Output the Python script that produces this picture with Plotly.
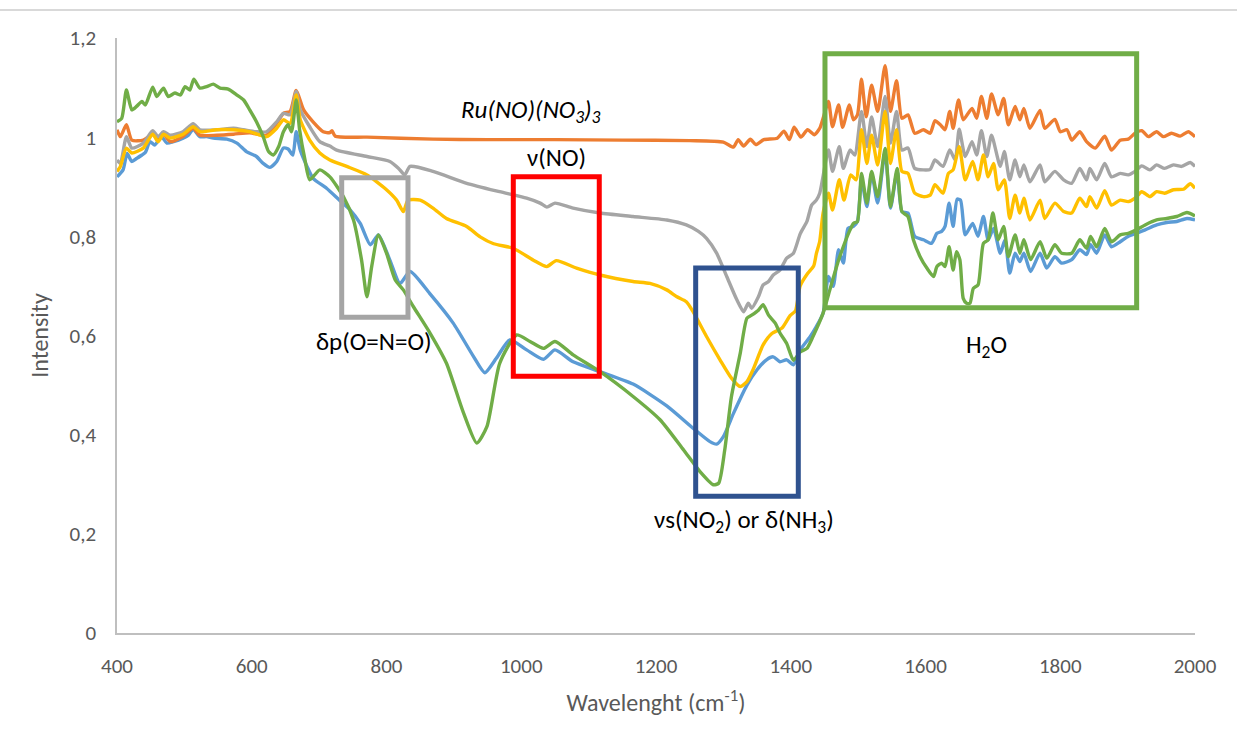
import plotly.graph_objects as go

# ---------------- data ----------------
orange_x = [400, 405, 414, 422, 439, 453, 461, 469, 479, 498, 513, 523, 548, 573, 597, 622, 637, 647, 657, 666, 677, 691, 706, 716, 719, 724, 771, 869, 950, 1050, 1150, 1250, 1300, 1315, 1322, 1330, 1340, 1348, 1360, 1380, 1390, 1398, 1405, 1415, 1425, 1435,
            1443, 1448, 1456, 1462, 1471, 1477, 1487, 1493, 1499, 1505, 1512, 1520, 1529, 1540, 1548, 1557, 1565, 1574, 1584, 1597, 1607, 1614, 1622, 1629, 1636, 1641, 1649, 1656, 1669, 1676, 1683, 1691, 1698, 1708, 1716, 1723, 1733, 1740, 1746, 1755, 1770, 1777, 1792, 1800, 1810, 1817, 1829, 1839, 1852, 1866, 1876, 1889, 1901, 1911, 1921, 1931, 1943, 1953, 1965, 1978, 1990, 2000]
orange_y = [1.015, 1.001, 1.025, 0.994, 0.994, 1.006, 0.994, 1.006, 0.991, 1.002, 1.018, 1.004, 1.004, 1.006, 1.009, 1.004, 1.028, 1.048, 1.052, 1.094, 1.055, 1.031, 1.011, 1.009, 1.013, 1.002, 1.000, 0.996, 0.995, 0.995, 0.994, 0.993, 0.990, 0.980, 0.995, 0.982, 0.996, 0.985, 0.995, 0.998, 1.012, 0.995, 1.020, 1.000, 1.015, 1.005,
            1.018, 1.038, 1.072, 1.021, 1.065, 1.020, 1.065, 1.035, 1.045, 1.117, 1.041, 1.105, 1.052, 1.144, 1.052, 1.114, 1.038, 1.045, 1.008, 1.015, 1.008, 1.033, 1.025, 1.015, 1.052, 1.018, 1.075, 1.035, 1.058, 1.038, 1.082, 1.038, 1.087, 1.045, 1.078, 1.025, 1.062, 1.035, 1.058, 1.018, 1.054, 1.018, 1.036, 1.011, 1.015, 0.994, 1.011, 0.991, 0.978, 1.002, 0.974, 0.994, 0.996, 1.008, 1.013, 1.001, 1.011, 1.001, 1.008, 1.002, 1.011, 1.001]

gray_x = [400, 405, 414, 422, 439, 453, 461, 469, 479, 498, 513, 523, 548, 573, 588, 607, 622, 637, 647, 657, 666, 672, 686, 701, 716, 726, 771, 805, 818, 827, 835, 869, 919, 968, 1008, 1028, 1038, 1050, 1077, 1117, 1166, 1216, 1245, 1263, 1275, 1290, 1305, 1320, 1330, 1337, 1342, 1352, 1359, 1367, 1374, 1384, 1394, 1404, 1414, 1424, 1431, 1438,
          1443, 1456, 1462, 1472, 1478, 1488, 1495, 1505, 1513, 1520, 1529, 1540, 1548, 1557, 1565, 1574, 1584, 1597, 1607, 1614, 1626, 1636, 1644, 1650, 1659, 1669, 1676, 1683, 1691, 1698, 1711, 1717, 1725, 1733, 1740, 1746, 1755, 1770, 1777, 1792, 1805, 1817, 1829, 1839, 1844, 1854, 1866, 1876, 1889, 1901, 1911, 1921, 1933, 1943, 1955, 1968, 1980, 1993, 2000]
gray_y = [0.954, 0.947, 1.001, 0.978, 0.988, 1.013, 1.001, 1.011, 1.004, 1.011, 1.027, 1.015, 1.015, 1.018, 1.015, 1.011, 1.011, 1.031, 1.048, 1.045, 1.092, 1.055, 1.021, 0.991, 0.982, 0.974, 0.961, 0.951, 0.937, 0.924, 0.941, 0.931, 0.907, 0.890, 0.877, 0.867, 0.859, 0.867, 0.857, 0.847, 0.840, 0.833, 0.823, 0.810, 0.796, 0.766, 0.719, 0.672, 0.648, 0.665, 0.655, 0.678, 0.702, 0.709, 0.722, 0.732, 0.756, 0.766, 0.805, 0.830, 0.863, 0.873,
          0.887, 0.974, 0.931, 0.981, 0.937, 0.974, 0.964, 1.052, 0.981, 1.041, 0.981, 1.082, 0.988, 1.052, 0.974, 0.978, 0.937, 0.934, 0.935, 0.954, 0.941, 0.974, 0.954, 1.016, 0.961, 0.991, 0.964, 1.013, 0.961, 1.004, 0.941, 0.971, 0.914, 0.954, 0.920, 0.944, 0.910, 0.944, 0.910, 0.931, 0.914, 0.907, 0.937, 0.914, 0.937, 0.914, 0.947, 0.920, 0.927, 0.924, 0.931, 0.942, 0.934, 0.944, 0.937, 0.944, 0.941, 0.949, 0.941]

yellow_x = [400, 405, 414, 422, 439, 453, 461, 469, 479, 498, 513, 523, 548, 573, 597, 622, 637, 647, 657, 666, 672, 686, 701, 716, 741, 771, 800, 815, 825, 832, 850, 869, 889, 919, 939, 959, 988, 1018, 1038, 1052, 1082, 1117, 1166, 1191, 1216, 1231, 1245, 1255, 1275, 1295, 1312, 1325, 1335, 1344, 1359, 1372, 1387, 1399, 1407, 1414, 1425, 1434, 1438,
            1443, 1448, 1456, 1462, 1472, 1479, 1489, 1497, 1505, 1513, 1520, 1529, 1540, 1548, 1557, 1565, 1574, 1584, 1597, 1607, 1614, 1626, 1634, 1641, 1650, 1659, 1670, 1678, 1686, 1693, 1701, 1708, 1717, 1725, 1733, 1740, 1746, 1755, 1770, 1777, 1792, 1805, 1817, 1829, 1839, 1844, 1854, 1866, 1876, 1889, 1901, 1911, 1921, 1933, 1943, 1955, 1968, 1983, 1993, 2000]
yellow_y = [0.931, 0.941, 0.978, 0.968, 0.978, 1.006, 0.991, 1.006, 0.998, 1.006, 1.021, 1.011, 1.015, 1.015, 1.011, 1.001, 1.018, 1.035, 1.028, 1.085, 1.035, 0.994, 0.968, 0.954, 0.941, 0.924, 0.894, 0.873, 0.850, 0.873, 0.873, 0.857, 0.836, 0.820, 0.799, 0.785, 0.776, 0.752, 0.739, 0.751, 0.736, 0.722, 0.709, 0.705, 0.692, 0.678, 0.668, 0.648, 0.598, 0.551, 0.514, 0.497, 0.507, 0.531, 0.581, 0.604, 0.615, 0.640, 0.650, 0.700, 0.725, 0.740, 0.765,
            0.790, 0.847, 0.887, 0.853, 0.914, 0.873, 0.924, 0.914, 1.015, 0.947, 1.004, 0.944, 1.052, 0.947, 1.015, 0.931, 0.927, 0.887, 0.880, 0.883, 0.904, 0.887, 0.927, 0.934, 0.981, 0.914, 0.951, 0.914, 0.964, 0.920, 0.947, 0.894, 0.914, 0.836, 0.883, 0.847, 0.877, 0.833, 0.873, 0.836, 0.867, 0.850, 0.847, 0.877, 0.860, 0.880, 0.857, 0.892, 0.863, 0.873, 0.870, 0.877, 0.890, 0.880, 0.890, 0.887, 0.894, 0.895, 0.906, 0.897]

blue_x = [400, 409, 415, 422, 429, 437, 442, 449, 456, 466, 474, 484, 498, 506, 513, 523, 533, 543, 563, 578, 592, 607, 617, 627, 637, 647, 654, 661, 666, 672, 682, 691, 711, 731, 745, 761, 776, 788, 805, 820, 835, 864, 899, 929, 946, 963, 983, 1008, 1033, 1050, 1077, 1117, 1166, 1216, 1255, 1280, 1290, 1300, 1315, 1335, 1350, 1364, 1374, 1384, 1394, 1404, 1414, 1429, 1438, 1448, 1456, 1463, 1471, 1478, 1485,
          1493, 1499, 1505, 1513, 1520, 1529, 1540, 1548, 1558, 1565, 1574, 1584, 1597, 1609, 1617, 1624, 1629, 1635, 1641, 1647, 1652, 1659, 1670, 1678, 1686, 1693, 1701, 1711, 1718, 1725, 1733, 1740, 1746, 1756, 1770, 1780, 1792, 1802, 1817, 1829, 1839, 1845, 1854, 1866, 1876, 1889, 1901, 1913, 1926, 1943, 1958, 1973, 1988, 2000]
blue_y = [0.920, 0.934, 0.967, 0.951, 0.957, 0.964, 0.969, 0.991, 0.984, 1.001, 0.988, 0.991, 0.998, 1.004, 1.016, 1.001, 1.001, 0.998, 0.996, 0.988, 0.971, 0.961, 0.947, 0.939, 0.951, 0.978, 0.976, 0.964, 1.011, 0.974, 0.941, 0.917, 0.897, 0.872, 0.855, 0.826, 0.783, 0.803, 0.752, 0.705, 0.729, 0.685, 0.625, 0.558, 0.525, 0.554, 0.591, 0.571, 0.552, 0.571, 0.547, 0.527, 0.502, 0.458, 0.413, 0.386, 0.381, 0.396, 0.443, 0.500, 0.531, 0.551, 0.557, 0.547, 0.551, 0.541, 0.571, 0.598, 0.618, 0.645, 0.719, 0.699, 0.773, 0.746, 0.816,
          0.820, 0.830, 0.914, 0.860, 0.927, 0.867, 0.971, 0.857, 0.931, 0.850, 0.847, 0.800, 0.793, 0.786, 0.806, 0.810, 0.820, 0.867, 0.820, 0.875, 0.873, 0.803, 0.826, 0.800, 0.840, 0.793, 0.816, 0.766, 0.793, 0.726, 0.766, 0.749, 0.766, 0.729, 0.766, 0.736, 0.759, 0.746, 0.753, 0.773, 0.763, 0.783, 0.766, 0.803, 0.779, 0.789, 0.800, 0.806, 0.813, 0.823, 0.828, 0.830, 0.836, 0.833]

green_x = [400, 407, 414, 422, 429, 437, 442, 453, 459, 469, 476, 486, 494, 501, 508, 514, 523, 533, 543, 553, 565, 578, 588, 597, 607, 617, 625, 632, 640, 647, 654, 659, 666, 671, 679, 686, 701, 716, 736, 751, 763, 771, 778, 788, 800, 813, 825, 840, 865, 889, 914, 934, 949, 968, 993, 1013, 1033, 1050, 1077, 1117, 1166, 1206, 1241, 1265, 1285, 1293, 1302, 1312, 1325, 1335, 1342, 1352, 1359, 1367, 1377, 1384, 1394, 1404, 1414, 1424, 1433, 1448, 1458, 1471, 1488,
           1493, 1499, 1505, 1513, 1520, 1529, 1540, 1548, 1558, 1565, 1574, 1582, 1592, 1602, 1612, 1617, 1624, 1629, 1635, 1641, 1646, 1651, 1656, 1661, 1666, 1671, 1678, 1686, 1693, 1700, 1708, 1716, 1723, 1733, 1740, 1746, 1756, 1770, 1780, 1792, 1802, 1817, 1829, 1839, 1845, 1854, 1866, 1876, 1889, 1901, 1913, 1926, 1943, 1958, 1973, 1988, 2000]
green_y = [1.031, 1.038, 1.095, 1.055, 1.062, 1.072, 1.065, 1.101, 1.082, 1.099, 1.082, 1.089, 1.085, 1.102, 1.095, 1.117, 1.099, 1.102, 1.107, 1.099, 1.097, 1.085, 1.075, 1.055, 1.031, 1.001, 0.971, 0.964, 0.981, 1.011, 1.025, 1.011, 1.075, 1.015, 0.954, 0.914, 0.934, 0.920, 0.880, 0.833, 0.752, 0.678, 0.739, 0.803, 0.766, 0.712, 0.692, 0.658, 0.604, 0.544, 0.445, 0.383, 0.416, 0.544, 0.601, 0.588, 0.574, 0.588, 0.561, 0.527, 0.477, 0.430, 0.369, 0.326, 0.299, 0.302, 0.369, 0.477, 0.564, 0.635, 0.641, 0.651, 0.662, 0.641, 0.625, 0.605, 0.584, 0.550, 0.567, 0.574, 0.598, 0.645, 0.692, 0.752, 0.813,
           0.826, 0.830, 0.927, 0.867, 0.931, 0.880, 0.977, 0.860, 0.937, 0.850, 0.840, 0.793, 0.759, 0.736, 0.719, 0.739, 0.746, 0.739, 0.779, 0.732, 0.769, 0.753, 0.675, 0.665, 0.665, 0.695, 0.702, 0.786, 0.793, 0.847, 0.793, 0.820, 0.759, 0.803, 0.766, 0.793, 0.753, 0.789, 0.756, 0.783, 0.766, 0.766, 0.793, 0.776, 0.800, 0.779, 0.816, 0.789, 0.803, 0.806, 0.813, 0.823, 0.833, 0.836, 0.840, 0.848, 0.841]

x_ticks = [400, 600, 800, 1000, 1200, 1400, 1600, 1800, 2000]
y_ticks = [0, 0.2, 0.4, 0.6, 0.8, 1.0, 1.2]

# highlighted regions: (x0, x1, y0, y1, colour)
boxes = [
    (733.5, 831.9, 0.637, 0.918, "#A5A5A5"),
    (988.2, 1115.8, 0.518, 0.920, "#FF0000"),
    (1258.9, 1411.2, 0.276, 0.736, "#2F528F"),
    (1450.8, 1913.4, 0.656, 1.168, "#70AD47"),
]

labels = [
    (1015, 1.053, "<i>Ru(NO)(NO<sub>3</sub>)<sub>3</sub></i>"),
    (1053, 0.958, "ν(NO)"),
    (781, 0.588, "δp(O=N=O)"),
    (1331, 0.226, "νs(NO<sub>2</sub>) or δ(NH<sub>3</sub>)"),
    (1690, 0.578, "H<sub>2</sub>O"),
]

FONT = "Carlito, Lato, 'Open Sans', sans-serif"

fig = go.Figure()
series = [
    ("blue", blue_x, blue_y, "#5B9BD5"),
    ("orange", orange_x, orange_y, "#ED7D31"),
    ("gray", gray_x, gray_y, "#A5A5A5"),
    ("yellow", yellow_x, yellow_y, "#FFC000"),
    ("green", green_x, green_y, "#70AD47"),
]
for name, xs, ys, col in series:
    fig.add_trace(go.Scatter(x=xs, y=ys, mode="lines", name=name,
                             line=dict(color=col, width=3.4, shape="spline", smoothing=0.6),
                             showlegend=False, hoverinfo="skip"))

for x0, x1, y0, y1, col in boxes:
    fig.add_shape(type="rect", xref="x", yref="y", x0=x0, x1=x1, y0=y0, y1=y1,
                  line=dict(color=col, width=5), fillcolor="rgba(0,0,0,0)", layer="above")

for x, y, t in labels:
    fig.add_annotation(x=x, y=y, xref="x", yref="y", text=t, showarrow=False,
                       font=dict(family=FONT, size=25, color="#000000"))

# thin rule at the top of the page
fig.add_shape(type="line", xref="paper", yref="paper", x0=-0.11, x1=1.04, y0=1.047, y1=1.047,
              line=dict(color="#D9D9D9", width=2))

fig.update_layout(
    width=1237, height=749,
    margin=dict(l=117, r=42, t=38, b=116),
    paper_bgcolor="white", plot_bgcolor="white",
    separators=", ",
    font=dict(family=FONT, color="#595959", size=21),
    xaxis=dict(range=[400, 2000], tickvals=x_ticks, showgrid=False, zeroline=False,
               showline=True, linecolor="#BFBFBF", linewidth=1.5, ticks="",
               ticklabelstandoff=13, tickfont=dict(size=21, color="#595959"),
               title=dict(text="Wavelenght (cm<sup>-1</sup>)", standoff=16,
                          font=dict(size=24, color="#595959"))),
    yaxis=dict(range=[0, 1.2], tickvals=y_ticks, showgrid=False, zeroline=False,
               showline=True, linecolor="#BFBFBF", linewidth=1.5, ticks="",
               ticklabelstandoff=15, tickfont=dict(size=21, color="#595959"),
               title=dict(text="Intensity", standoff=14,
                          font=dict(size=24, color="#595959"))),
)

fig.write_html("out.html")
